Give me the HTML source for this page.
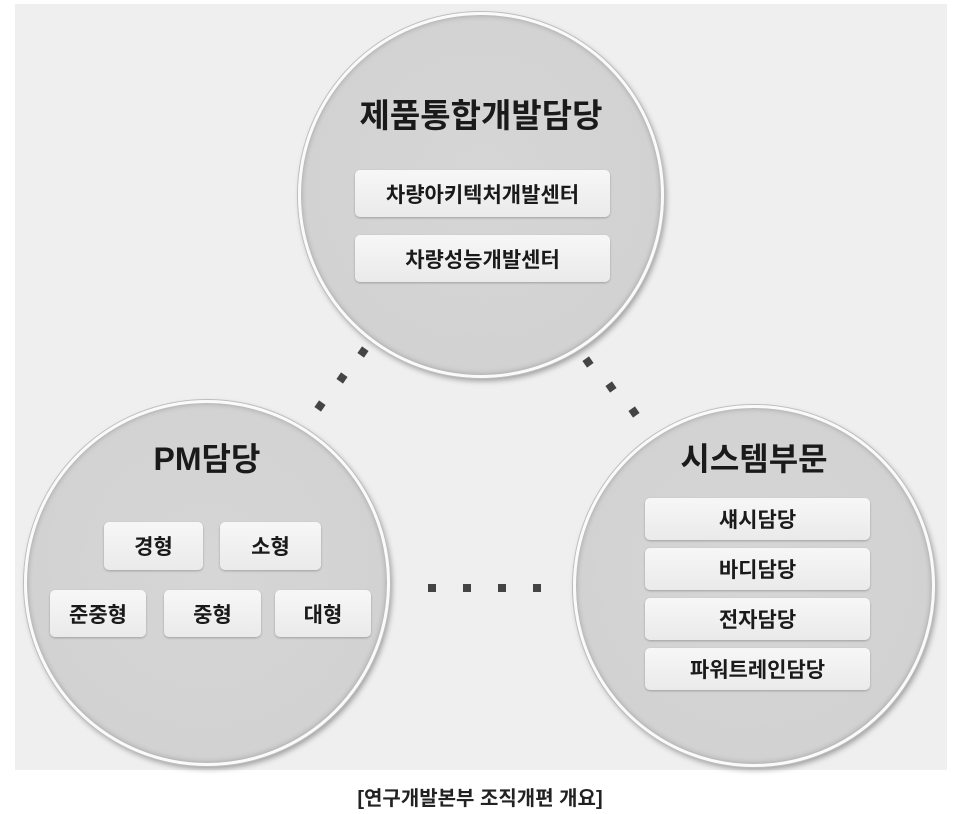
<!DOCTYPE html>
<html><head><meta charset="utf-8"><style>
body{margin:0;width:960px;height:814px;background:#fff;position:relative;overflow:hidden;font-family:"Liberation Sans","Noto Sans CJK KR",sans-serif;}
.bg{position:absolute;left:15px;top:4px;width:932px;height:766px;background:#efefef;}
.c{position:absolute;border-radius:50%;background:radial-gradient(circle at 50% 45%,#d6d6d6 0%,#d2d2d2 70%,#c4c4c4 100%);border:3px solid #fafafa;box-shadow:0 0 0 1px #bdbdbd,2px 3px 6px rgba(0,0,0,.35), inset 0 0 6px rgba(0,0,0,.25);box-sizing:border-box;}
.t{position:absolute;font-weight:bold;color:#1a1a1a;text-align:center;white-space:nowrap;}
.b{position:absolute;background:linear-gradient(#f7f7f7,#eaeaea);border-radius:5px;box-shadow:0 1px 2px rgba(0,0,0,.25);font-weight:bold;color:#1a1a1a;display:flex;align-items:center;justify-content:center;font-size:21px;}
.d{position:absolute;width:8px;height:8px;background:#444;}
</style></head><body>
<div class="bg"></div>
<div class="c" style="left:298px;top:12px;width:366px;height:366px"></div>
<div class="c" style="left:24px;top:400px;width:366px;height:366px"></div>
<div class="c" style="left:573px;top:405px;width:362px;height:362px"></div>
<div class="t" style="left:298px;width:366px;top:89px;font-size:33px">제품통합개발담당</div>
<div class="b" style="left:355px;top:170px;width:255px;height:47px">차량아키텍처개발센터</div>
<div class="b" style="left:355px;top:235px;width:255px;height:47px">차량성능개발센터</div>
<div class="t" style="left:24px;width:366px;top:434px;font-size:32px">PM담당</div>
<div class="b" style="left:104px;top:522px;width:99px;height:48px">경형</div>
<div class="b" style="left:220px;top:522px;width:101px;height:48px">소형</div>
<div class="b" style="left:50px;top:590px;width:96px;height:47px">준중형</div>
<div class="b" style="left:164px;top:590px;width:97px;height:47px">중형</div>
<div class="b" style="left:275px;top:590px;width:96px;height:47px">대형</div>
<div class="t" style="left:573px;width:362px;top:434px;font-size:32px">시스템부문</div>
<div class="b" style="left:645px;top:498px;width:225px;height:42px">섀시담당</div>
<div class="b" style="left:645px;top:548px;width:225px;height:42px">바디담당</div>
<div class="b" style="left:645px;top:598px;width:225px;height:42px">전자담당</div>
<div class="b" style="left:645px;top:648px;width:225px;height:42px">파워트레인담당</div>
<div class="d" style="left:359px;top:348px;transform:rotate(35deg)"></div>
<div class="d" style="left:338px;top:374px;transform:rotate(35deg)"></div>
<div class="d" style="left:316px;top:402px;transform:rotate(35deg)"></div>
<div class="d" style="left:584px;top:358px;transform:rotate(-35deg)"></div>
<div class="d" style="left:607px;top:383px;transform:rotate(-35deg)"></div>
<div class="d" style="left:630px;top:408px;transform:rotate(-35deg)"></div>
<div class="d" style="left:428px;top:584px"></div>
<div class="d" style="left:463px;top:584px"></div>
<div class="d" style="left:498px;top:584px"></div>
<div class="d" style="left:533px;top:584px"></div>
<div class="t" style="left:0;width:960px;top:782px;font-size:20px;color:#222">[연구개발본부 조직개편 개요]</div>
</body></html>
